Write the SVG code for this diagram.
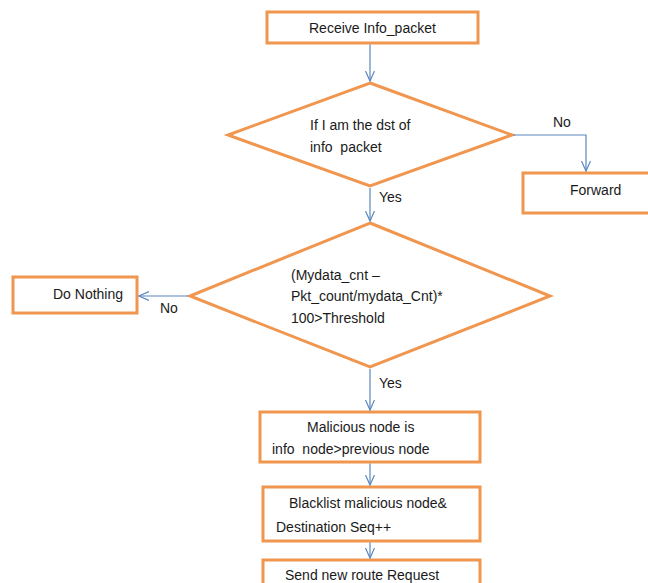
<svg xmlns="http://www.w3.org/2000/svg" width="648" height="583" viewBox="0 0 648 583">
<defs>
<style>
.shape{fill:#ffffff;stroke:#f0964f;stroke-width:3}
.t{font-family:"Liberation Sans",Arial,sans-serif;font-size:14px;fill:#1a1a1a;white-space:pre}
.c{fill:none;stroke:#5b87bd;stroke-width:1.2}
</style>
<marker id="ah" markerWidth="12" markerHeight="12" refX="10" refY="5" orient="auto" markerUnits="userSpaceOnUse" viewBox="0 0 12 12">
<path d="M0,0.5 L10,5 L0,9.5" fill="none" stroke="#5b87bd" stroke-width="1.2"/>
</marker>
</defs>
<rect width="648" height="583" fill="#ffffff"/>
<g id="receive">
<rect class="shape" x="267" y="12" width="211" height="31"/>
<text class="t" x="309" y="33">Receive Info_packet</text>
</g>
<g id="decision1">
<polygon class="shape" points="370,83 512,135 370,186 228,135"/>
<text class="t" x="310" y="130">If I am the dst of</text>
<text class="t" x="310" y="152">info  packet</text>
</g>
<g id="forward">
<rect class="shape" x="523" y="173" width="135" height="40"/>
<text class="t" x="570" y="195">Forward</text>
</g>
<g id="decision2">
<polygon class="shape" points="370,223 550,296 370,367 190,296"/>
<text class="t" x="291" y="280">(Mydata_cnt –</text>
<text class="t" x="291" y="301">Pkt_count/mydata_Cnt)*</text>
<text class="t" x="291" y="323">100&gt;Threshold</text>
</g>
<g id="donothing">
<rect class="shape" x="13" y="277" width="124" height="36"/>
<text class="t" x="53" y="299">Do Nothing</text>
</g>
<g id="malicious">
<rect class="shape" x="260" y="412" width="220" height="50"/>
<text class="t" x="307" y="432">Malicious node is</text>
<text class="t" x="272" y="454">info  node&gt;previous node</text>
</g>
<g id="blacklist">
<rect class="shape" x="263" y="487" width="217" height="54"/>
<text class="t" x="289" y="508">Blacklist malicious node&amp;</text>
<text class="t" x="276" y="532">Destination Seq++</text>
</g>
<g id="sendroute">
<rect class="shape" x="263" y="560" width="217" height="40"/>
<text class="t" x="285" y="580">Send new route Request</text>
</g>
<g id="connectors">
<path class="c" d="M370,44.5 V81" marker-end="url(#ah)"/>
<path class="c" d="M513,135 H586 V171" marker-end="url(#ah)"/>
<path class="c" d="M370,188 V221" marker-end="url(#ah)"/>
<path class="c" d="M188,296 H139" marker-end="url(#ah)"/>
<path class="c" d="M370,369 V410" marker-end="url(#ah)"/>
<path class="c" d="M370,463.5 V485" marker-end="url(#ah)"/>
<path class="c" d="M370,542.5 V558" marker-end="url(#ah)"/>
</g>
<g id="labels">
<text class="t" x="553" y="127">No</text>
<text class="t" x="379" y="202">Yes</text>
<text class="t" x="160" y="313">No</text>
<text class="t" x="379" y="388">Yes</text>
</g>
</svg>
